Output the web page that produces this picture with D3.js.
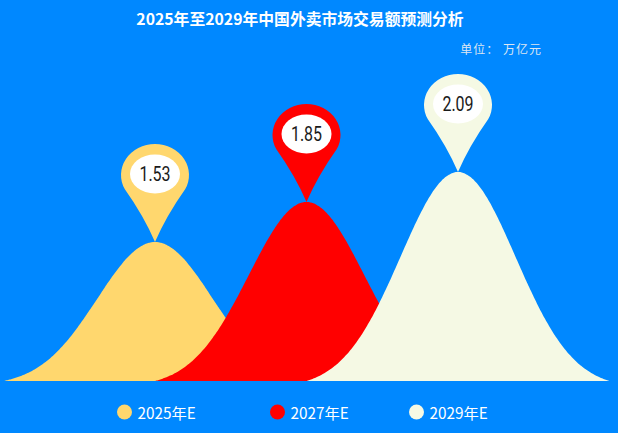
<!DOCTYPE html>
<html>
<head>
<meta charset="utf-8">
<script src="https://cdn.jsdelivr.net/npm/d3@7/dist/d3.min.js"></script>
<style>
  html, body { margin: 0; padding: 0; background: #0088ff; }
  svg { display: block; }
</style>
</head>
<body>
<svg id="chart" width="618" height="433"></svg>
<script>
// ---- data ----
const categories = ["2025年E", "2027年E", "2029年E"];
const values = [1.53, 1.85, 2.09];
const colors = ["#FFD76E", "#FF0000", "#F5F9E4"];
const titleText = "2025年至2029年中国外卖市场交易额预测分析";
const unitText = "单位： 万亿元";

// ---- layout ----
const W = 618, H = 433;
const baseY = 381;
const svg = d3.select("#chart");

svg.append("rect").attr("width", W).attr("height", H).attr("fill", "#0088ff");

const x = d3.scalePoint().domain(categories).range([155, 458]);
const step = x.step();
const y = d3.scaleLinear().domain([0.418, 2.2]).range([baseY, baseY - 125 * (2.2 - 0.418)]);

// bell profile (truncated gaussian), t in [-1, 1]
const s = 0.38;
const e0 = Math.exp(-1 / (2 * s * s));
const prof = t => (Math.exp(-t * t / (2 * s * s)) - e0) / (1 - e0);
const ts = d3.range(-1, 1.0001, 0.01);

const area = d3.area()
  .x(d => d.x)
  .y0(baseY)
  .y1(d => d.y)
  .curve(d3.curveBasis);

const bells = svg.append("g");
categories.forEach((c, i) => {
  const cx = x(c);
  const hgt = baseY - y(values[i]);
  const pts = ts.map(t => ({ x: cx + t * step, y: baseY - hgt * prof(t) }));
  bells.append("path")
    .attr("d", area(pts))
    .attr("fill", colors[i]);
});

// teardrop pin: elliptical head, straight-ish tail to the tip (px, py)
function pinPath(px, py) {
  const rx = 34, ry = 31, D = 67;
  const cy = py - D;
  const Ds = D * rx / ry;
  const th = Math.acos(rx / Ds);
  const tx = rx * Math.sin(th);
  const ty = rx * Math.cos(th) * ry / rx;
  const lx = px - tx, rxp = px + tx, yy = cy + ty;
  const k = 0.12; // slight concavity of the tail
  const mlx = (lx + px) / 2 + k * tx, mly = (yy + py) / 2;
  const mrx = (rxp + px) / 2 - k * tx;
  return `M${lx},${yy} A${rx},${ry} 0 1 1 ${rxp},${yy} ` +
         `Q${mrx},${mly} ${px},${py} Q${mlx},${mly} ${lx},${yy} Z`;
}

const pins = svg.append("g");
categories.forEach((c, i) => {
  const px = x(c), py = y(values[i]);
  pins.append("path").attr("d", pinPath(px, py)).attr("fill", colors[i]);
  pins.append("ellipse")
    .attr("cx", px).attr("cy", py - 68)
    .attr("rx", 25).attr("ry", 19.5)
    .attr("fill", "#ffffff");
  pins.append("text")
    .attr("transform", `translate(${px},${py - 68}) scale(0.78,1)`)
    .attr("text-anchor", "middle")
    .attr("dominant-baseline", "central")
    .attr("font-family", "Roboto, sans-serif")
    .attr("font-weight", 400)
    .attr("font-size", 20.5)
    .attr("fill", "#1a1a1a")
    .text(values[i].toFixed(2));
});

// title
svg.append("text")
  .attr("x", 300).attr("y", 18)
  .attr("text-anchor", "middle")
  .attr("dominant-baseline", "central")
  .attr("font-family", "'Noto Sans CJK SC', sans-serif")
  .attr("font-weight", "bold")
  .attr("font-size", 15.8)
  .attr("fill", "#ffffff")
  .text(titleText);

// unit
svg.append("text")
  .attr("x", 542).attr("y", 48)
  .attr("text-anchor", "end")
  .attr("dominant-baseline", "central")
  .attr("font-family", "'Noto Sans CJK SC', sans-serif")
  .attr("font-size", 12)
  .attr("letter-spacing", 1)
  .attr("fill", "#dde6f2")
  .text(unitText);

// legend
const legendX = [124.5, 277.5, 416.5];
const legY = 412;
const leg = svg.append("g");
categories.forEach((c, i) => {
  leg.append("circle").attr("cx", legendX[i]).attr("cy", legY).attr("r", 7.5).attr("fill", colors[i]);
  leg.append("text")
    .attr("x", legendX[i] + 13).attr("y", legY)
    .attr("dominant-baseline", "central")
    .attr("font-family", "'Noto Sans CJK SC', sans-serif")
    .attr("font-size", 15.3)
    .attr("fill", "#ffffff")
    .text(c);
});
</script>
</body>
</html>
